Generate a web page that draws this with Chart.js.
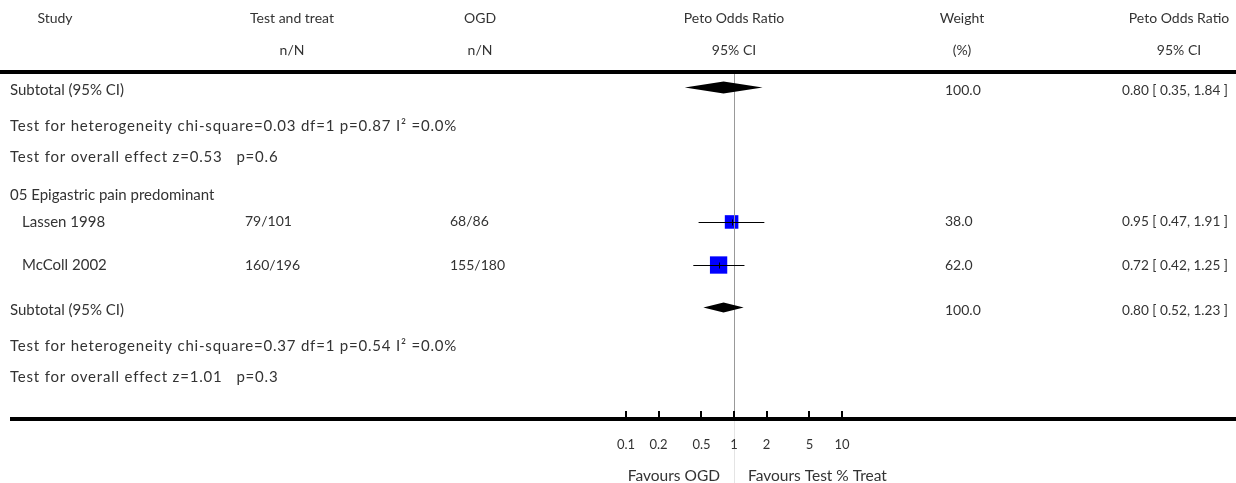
<!DOCTYPE html>
<html>
<head>
<meta charset="utf-8">
<script src="https://cdn.jsdelivr.net/npm/chart.js@4.4.1/dist/chart.umd.min.js"></script>
<style>
  html, body { margin: 0; padding: 0; background: #fff; }
  #wrap { width: 1236px; height: 483px; }
</style>
</head>
<body>
<div id="wrap"><canvas id="forest" width="1236" height="483"></canvas></div>
<script>
// data
const studies = ['Lassen 1998', 'McColl 2002'];
const treatCounts = ['79/101', '160/196'];
const ogdCounts = ['68/86', '155/180'];
const weights = [38.0, 62.0];
const orEst = [0.95, 0.72];
const orLow = [0.47, 0.42];
const orHigh = [1.91, 1.25];

const subWeights = [100.0, 100.0];
const subEst = [0.80, 0.80];
const subLow = [0.35, 0.52];
const subHigh = [1.84, 1.23];
const hetTexts = [
    'Test for heterogeneity chi-square=0.03 df=1 p=0.87 I\u00b2 =0.0%',
    'Test for heterogeneity chi-square=0.37 df=1 p=0.54 I\u00b2 =0.0%'
];
const overallTexts = [
    'Test for overall effect z=0.53   p=0.6',
    'Test for overall effect z=1.01   p=0.3'
];
const sectionTitle = '05 Epigastric pain predominant';
const tickValues = [0.1, 0.2, 0.5, 1, 2, 5, 10];
const tickLabels = ['0.1', '0.2', '0.5', '1', '2', '5', '10'];

// layout: row positions in y-scale units (rows)
const rowHead1 = -1.74, rowHead2 = -0.71;
const rowSub = [0.6, 7.7];
const rowHet = [1.74, 8.84];
const rowOverall = [2.74, 9.84];
const rowSection = 3.97;
const rowStudy = [4.84, 6.23];
const rowTicks = 12.03, rowFavours = 13.03;

const FAMILY = 'Lato, "Open Sans", sans-serif';
const TEXT = '#333';

function fmt(v) { return v.toFixed(2); }
function ciText(e, l, h) { return fmt(e) + ' [ ' + fmt(l) + ', ' + fmt(h) + ' ]'; }

const forestPlugin = {
    id: 'forest',
    afterDatasetsDraw(chart) {
        const ctx = chart.ctx;
        const x = chart.scales.x, y = chart.scales.y;
        const area = chart.chartArea;
        const W = chart.width;
        const x1 = x.getPixelForValue(1);

        ctx.save();
        // line of no effect
        ctx.strokeStyle = '#999';
        ctx.lineWidth = 1;
        ctx.beginPath();
        ctx.moveTo(Math.round(x1) + 0.5, area.top);
        ctx.lineTo(Math.round(x1) + 0.5, area.bottom);
        ctx.stroke();
        ctx.strokeStyle = '#e4e4e4';
        ctx.beginPath();
        ctx.moveTo(Math.round(x1) + 0.5, area.bottom);
        ctx.lineTo(Math.round(x1) + 0.5, W);
        ctx.stroke();

        // confidence interval lines
        ctx.strokeStyle = '#000';
        ctx.lineWidth = 1;
        studies.forEach((s, i) => {
            const py = Math.round(y.getPixelForValue(rowStudy[i])) + 0.5;
            ctx.beginPath();
            ctx.moveTo(x.getPixelForValue(orLow[i]), py);
            ctx.lineTo(x.getPixelForValue(orHigh[i]), py);
            const pe = Math.round(x.getPixelForValue(orEst[i])) + 0.5;
            ctx.moveTo(pe, py - 3);
            ctx.lineTo(pe, py + 3);
            ctx.stroke();
        });

        // subtotal diamonds
        ctx.fillStyle = '#000';
        const halfH = [6, 5];
        subEst.forEach((e, i) => {
            const py = y.getPixelForValue(rowSub[i]) - 3;
            ctx.beginPath();
            ctx.moveTo(x.getPixelForValue(subLow[i]), py);
            ctx.lineTo(x.getPixelForValue(e), py - halfH[i]);
            ctx.lineTo(x.getPixelForValue(subHigh[i]), py);
            ctx.lineTo(x.getPixelForValue(e), py + halfH[i]);
            ctx.closePath();
            ctx.fill();
        });

        // rules
        ctx.fillStyle = '#000';
        ctx.fillRect(0, area.top - 2, W, 4);
        ctx.fillRect(10, area.bottom - 2, W - 10, 4);

        // axis ticks
        tickValues.forEach(v => {
            const px = Math.round(x.getPixelForValue(v));
            ctx.fillRect(px - 1, area.bottom - 8, 2, 8);
        });

        // texts
        ctx.font = '14px ' + FAMILY;
        ctx.fillStyle = TEXT;
        ctx.textBaseline = 'middle';
        const put = (t, px, row, align, maxW) => {
            ctx.textAlign = align || 'left';
            if (maxW) ctx.fillText(t, px, y.getPixelForValue(row), maxW);
            else ctx.fillText(t, px, y.getPixelForValue(row));
        };

        put('Study', 55, rowHead1, 'center');
        put('Test and treat', 292, rowHead1, 'center');
        put('n/N', 292, rowHead2, 'center');
        put('OGD', 480, rowHead1, 'center');
        put('n/N', 480, rowHead2, 'center');
        put('Peto Odds Ratio', x1, rowHead1, 'center');
        put('95% CI', x1, rowHead2, 'center');
        put('Weight', 962, rowHead1, 'center');
        put('(%)', 962, rowHead2, 'center');
        put('Peto Odds Ratio', 1179, rowHead1, 'center');
        put('95% CI', 1179, rowHead2, 'center');

        studies.forEach((s, i) => {
            put(treatCounts[i], 245, rowStudy[i]);
            put(ogdCounts[i], 450, rowStudy[i]);
            put(weights[i].toFixed(1), 945, rowStudy[i]);
            put(ciText(orEst[i], orLow[i], orHigh[i]), 1228, rowStudy[i], 'right', 106);
        });
        for (let g = 0; g < 2; g++) {
            put(subWeights[g].toFixed(1), 945, rowSub[g]);
            put(ciText(subEst[g], subLow[g], subHigh[g]), 1228, rowSub[g], 'right', 106);
        }

        ctx.font = '15px ' + FAMILY;
        put(sectionTitle, 10, rowSection);
        studies.forEach((s, i) => put(s, 22, rowStudy[i]));
        for (let g = 0; g < 2; g++) {
            put('Subtotal (95% CI)', 10, rowSub[g]);
            ctx.letterSpacing = '0.8px';
            put(hetTexts[g], 10, rowHet[g]);
            put(overallTexts[g], 10, rowOverall[g]);
            ctx.letterSpacing = '0px';
        }

        ctx.font = '13px ' + FAMILY;
        tickValues.forEach((v, i) => put(tickLabels[i], x.getPixelForValue(v), rowTicks, 'center'));
        ctx.font = '15.5px ' + FAMILY;
        put('Favours OGD', x1 - 14, rowFavours, 'right');
        put('Favours Test % Treat', x1 + 14, rowFavours, 'left');
        ctx.restore();
    }
};

new Chart(document.getElementById('forest').getContext('2d'), {
    type: 'scatter',
    data: {
        datasets: [{
            data: studies.map((s, i) => ({ x: orEst[i], y: rowStudy[i] })),
            pointStyle: 'rect',
            pointRadius: weights.map(w => 2.2 * Math.sqrt(w) / Math.SQRT2),
            backgroundColor: '#0000ff',
            borderWidth: 0
        }]
    },
    options: {
        responsive: false,
        animation: false,
        devicePixelRatio: 1,
        layout: { padding: { left: 626, right: 394, top: 72, bottom: 64 } },
        plugins: { legend: { display: false }, tooltip: { enabled: false } },
        scales: {
            x: { type: 'logarithmic', min: 0.1, max: 10, display: false },
            y: { type: 'linear', min: 0, max: 11.2, reverse: true, display: false }
        }
    },
    plugins: [forestPlugin]
});
</script>
</body>
</html>
